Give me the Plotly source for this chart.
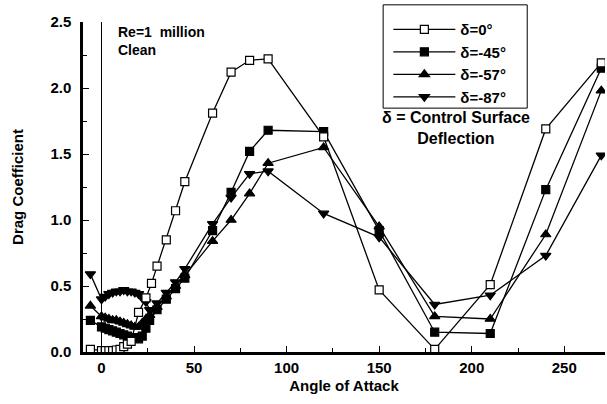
import plotly.graph_objects as go

# ---- data ----
aoa_0 = [-6, 0, 2, 4, 6, 8, 10, 12, 14, 16, 20, 24, 27, 30, 35, 40, 45, 60, 70, 80, 90, 120, 150, 180, 210, 240, 270]
cd_0 = [0.02, 0.01, 0.01, 0.01, 0.01, 0.015, 0.02, 0.04, 0.06, 0.08, 0.30, 0.41, 0.52, 0.65, 0.85, 1.07, 1.29, 1.81, 2.12, 2.21, 2.22, 1.63, 0.47, 0.02, 0.51, 1.69, 2.19]

aoa_45 = [-6, 0, 2, 4, 6, 8, 10, 12, 14, 16, 18, 20, 22, 24, 26, 30, 35, 40, 45, 60, 70, 80, 90, 120, 150, 180, 210, 240, 270]
cd_45 = [0.24, 0.19, 0.18, 0.17, 0.16, 0.15, 0.14, 0.13, 0.12, 0.11, 0.11, 0.10, 0.12, 0.18, 0.24, 0.32, 0.40, 0.48, 0.56, 0.92, 1.21, 1.52, 1.68, 1.67, 0.92, 0.15, 0.14, 1.23, 2.15]

aoa_57 = [-6, 0, 2, 4, 6, 8, 10, 12, 14, 16, 18, 20, 22, 24, 26, 30, 35, 40, 45, 60, 70, 80, 90, 120, 150, 180, 210, 240, 270]
cd_57 = [0.35, 0.27, 0.26, 0.25, 0.24, 0.24, 0.23, 0.22, 0.21, 0.20, 0.19, 0.19, 0.22, 0.25, 0.28, 0.34, 0.42, 0.50, 0.58, 0.84, 1.00, 1.20, 1.43, 1.55, 0.95, 0.27, 0.25, 0.89, 1.98]

aoa_87 = [-6, 0, 2, 4, 6, 8, 10, 12, 14, 16, 18, 20, 22, 24, 26, 30, 35, 40, 45, 60, 70, 80, 90, 120, 150, 180, 210, 240, 270]
cd_87 = [0.59, 0.40, 0.42, 0.44, 0.45, 0.46, 0.46, 0.47, 0.46, 0.46, 0.45, 0.44, 0.41, 0.38, 0.32, 0.37, 0.45, 0.53, 0.63, 0.97, 1.17, 1.35, 1.37, 1.05, 0.87, 0.36, 0.43, 0.73, 1.49]

names = ["δ=0°", "δ=-45°", "δ=-57°", "δ=-87°"]

BOLD = "Liberation Sans"
fig = go.Figure()

def add(x, y, name, symbol, fill, size, rank):
    fig.add_trace(go.Scatter(
        x=x, y=y, name=name, mode="lines+markers",
        line=dict(color="black", width=1.3),
        marker=dict(symbol=symbol, size=size, color=fill,
                    line=dict(color="black", width=1.2)),
        legendrank=rank,
    ))

add(aoa_87, cd_87, names[3], "triangle-down", "black", 9, 4)
add(aoa_57, cd_57, names[2], "triangle-up", "black", 9, 3)
add(aoa_45, cd_45, names[1], "square", "black", 8, 2)
add(aoa_0, cd_0, names[0], "square", "white", 8, 1)

fig.update_layout(
    width=607, height=404,
    margin=dict(l=83, r=2, t=22, b=52),
    paper_bgcolor="white", plot_bgcolor="white",
    font=dict(family=BOLD, size=14, color="black", weight="bold"),
    showlegend=True,
    legend=dict(
        x=0.585, y=1.027, xanchor="left", yanchor="top",
        bgcolor="rgba(0,0,0,0)", borderwidth=0,
        font=dict(family=BOLD, size=15, color="black", weight="bold"),
        itemwidth=62, traceorder="normal",
    ),
    xaxis=dict(
        range=[-10, 272], tickmode="array", tickvals=[0, 50, 100, 150, 200, 250],
        ticks="inside", ticklen=6, tickwidth=1, tickcolor="black",
        minor=dict(tickvals=[25, 75, 125, 175, 225], ticks="inside", ticklen=4, tickcolor="black"),
        showline=True, linecolor="black", linewidth=2.5,
        showgrid=False, zeroline=True, zerolinecolor="black", zerolinewidth=1,
        title=dict(text="Angle of Attack", font=dict(size=15, weight="bold"), standoff=6),
        tickfont=dict(size=15, weight="bold"),
    ),
    yaxis=dict(
        range=[0, 2.5], tickmode="array", tickvals=[0, 0.5, 1.0, 1.5, 2.0, 2.5],
        tickformat=".1f",
        ticks="inside", ticklen=6, tickwidth=1, tickcolor="black",
        minor=dict(tickvals=[0.25, 0.75, 1.25, 1.75, 2.25], ticks="inside", ticklen=4, tickcolor="black"),
        showline=True, linecolor="black", linewidth=2.5,
        showgrid=False, zeroline=False, ticklabelstandoff=6,
        title=dict(text="Drag Coefficient", font=dict(size=15, weight="bold"), standoff=24),
        tickfont=dict(size=15, weight="bold"),
    ),
    shapes=[dict(type="rect", xref="paper", yref="paper",
                 x0=0.575, x1=0.851, y0=0.739, y1=1.052,
                 line=dict(color="black", width=1))],
    annotations=[
        dict(text="Re=1  million<br>Clean", xref="paper", yref="paper",
             x=0.063, y=1.0, xanchor="left", yanchor="top", align="left",
             showarrow=False, font=dict(size=14, weight="bold")),
        dict(text="δ = Control Surface<br>Deflection", xref="paper", yref="paper",
             x=0.715, y=0.742, xanchor="center", yanchor="top", align="center",
             showarrow=False, font=dict(size=16, weight="bold")),
    ],
)

fig.write_html("out.html")
